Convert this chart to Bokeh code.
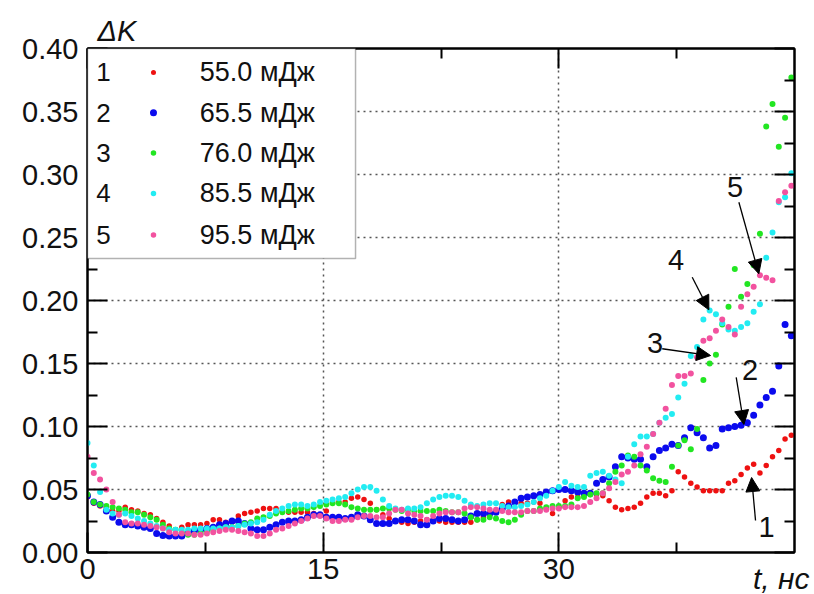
from bokeh.plotting import figure
from bokeh.models import (Range1d, FixedTicker, LinearAxis, Label, BoxAnnotation,
                          Arrow, NormalHead, ColumnDataSource, PrintfTickFormatter,
                          CustomJSTickFormatter, Title)
from bokeh.embed import file_html
from bokeh.resources import INLINE

# ---------------- data ----------------
t_ns = [round(0.4 * i, 1) for i in range(113)]

dk_55 = [
    0.044, 0.039, 0.037, 0.036, 0.033, 0.033, 0.036, 0.034, 0.033, 0.031,
    0.030, 0.027, 0.024, 0.021, 0.018, 0.020, 0.022, 0.022, 0.022, 0.023,
    0.026, 0.026, 0.024, 0.024, 0.029, 0.031, 0.032, 0.033, 0.035, 0.035,
    0.035, 0.033, 0.032, 0.032, 0.032, 0.032, 0.031, 0.030, 0.033, 0.040,
    0.040, 0.040, 0.043, 0.044, 0.042, 0.039, 0.034, 0.030, 0.027, 0.025,
    0.024, 0.023, 0.024, 0.025, 0.026, 0.026, 0.025, 0.024, 0.024, 0.024,
    0.024, 0.024, 0.026, 0.028, 0.030, 0.033, 0.038, 0.040, 0.040, 0.039,
    0.039, 0.040, 0.039, 0.035, 0.031, 0.036, 0.041, 0.044, 0.044, 0.045,
    0.046, 0.046, 0.045, 0.041, 0.036, 0.034, 0.035, 0.036, 0.039, 0.044,
    0.047, 0.047, 0.045, 0.049, 0.064, 0.060, 0.055, 0.052, 0.049, 0.049,
    0.049, 0.049, 0.055, 0.057, 0.062, 0.067, 0.070, 0.063, 0.069, 0.076,
    0.081, 0.090, 0.093]

dk_65 = [
    0.045, 0.040, 0.038, 0.033, 0.028, 0.024, 0.022, 0.022, 0.021, 0.020,
    0.019, 0.015, 0.0135, 0.013, 0.013, 0.013, 0.015, 0.017, 0.018, 0.019,
    0.020, 0.022, 0.023, 0.025, 0.025, 0.023, 0.019, 0.018, 0.018, 0.020,
    0.022, 0.024, 0.025, 0.025, 0.026, 0.028, 0.030, 0.030, 0.028, 0.028,
    0.028, 0.027, 0.028, 0.030, 0.029, 0.026, 0.023, 0.023, 0.023, 0.025,
    0.026, 0.026, 0.025, 0.022, 0.022, 0.025, 0.027, 0.027, 0.026, 0.025,
    0.026, 0.029, 0.031, 0.031, 0.031, 0.032, 0.035, 0.037, 0.040, 0.043,
    0.044, 0.045, 0.046, 0.048, 0.049, 0.050, 0.050, 0.049, 0.048, 0.047,
    0.047, 0.055, 0.058, 0.060, 0.068, 0.076, 0.075, 0.074, 0.074, 0.068,
    0.076, 0.081, 0.083, 0.086, 0.085, 0.091, 0.099, 0.095, 0.091, 0.083,
    0.085, 0.098, 0.099, 0.100, 0.101, 0.103, 0.109, 0.117, 0.123, 0.128,
    0.148, 0.181, 0.172]

dk_76 = [
    0.046, 0.040, 0.038, 0.037, 0.036, 0.035, 0.034, 0.032, 0.032, 0.030,
    0.028, 0.026, 0.022, 0.019, 0.018, 0.016, 0.014, 0.014, 0.015, 0.017,
    0.018, 0.019, 0.020, 0.020, 0.021, 0.023, 0.024, 0.027, 0.028, 0.029,
    0.031, 0.032, 0.033, 0.034, 0.035, 0.035, 0.036, 0.037, 0.038, 0.039,
    0.039, 0.038, 0.036, 0.035, 0.034, 0.034, 0.034, 0.035, 0.035, 0.034,
    0.033, 0.034, 0.033, 0.033, 0.033, 0.033, 0.034, 0.033, 0.032, 0.032,
    0.031, 0.028, 0.026, 0.026, 0.028, 0.027, 0.025, 0.024, 0.026, 0.030,
    0.033, 0.033, 0.035, 0.036, 0.037, 0.037, 0.037, 0.038, 0.043, 0.044,
    0.046, 0.047, 0.047, 0.055, 0.064, 0.069, 0.077, 0.076, 0.069, 0.065,
    0.059, 0.057, 0.056, 0.068, 0.085, 0.089, 0.082, 0.098, 0.137, 0.150,
    0.157, 0.181, 0.195, 0.225, 0.203, 0.213, 0.228, 0.253, 0.338, 0.356,
    0.322, 0.345, 0.377]

dk_85 = [
    0.087, 0.069, 0.048, 0.034, 0.031, 0.030, 0.031, 0.029, 0.027, 0.025,
    0.023, 0.021, 0.019, 0.018, 0.018, 0.018, 0.018, 0.019, 0.019, 0.019,
    0.019, 0.019, 0.020, 0.020, 0.021, 0.022, 0.023, 0.024, 0.026, 0.030,
    0.033, 0.035, 0.037, 0.038, 0.038, 0.037, 0.038, 0.040, 0.041, 0.042,
    0.043, 0.044, 0.047, 0.050, 0.052, 0.052, 0.049, 0.042, 0.037, 0.035,
    0.034, 0.035, 0.035, 0.036, 0.039, 0.042, 0.044, 0.045, 0.045, 0.044,
    0.041, 0.038, 0.037, 0.038, 0.039, 0.039, 0.037, 0.036, 0.036, 0.037,
    0.038, 0.040, 0.043, 0.045, 0.049, 0.052, 0.056, 0.053, 0.052, 0.052,
    0.061, 0.063, 0.064, 0.061, 0.058, 0.055, 0.076, 0.086, 0.092, 0.092,
    0.094, 0.103, 0.107, 0.110, 0.123, 0.134, 0.156, 0.163, 0.185, 0.192,
    0.189, 0.182, 0.177, 0.176, 0.179, 0.182, 0.191, 0.197, 0.234, 0.254,
    0.278, 0.282, 0.301]

dk_95 = [
    0.076, 0.063, 0.058, 0.050, 0.040, 0.030, 0.024, 0.023, 0.023, 0.022,
    0.021, 0.020, 0.019, 0.016, 0.015, 0.015, 0.015, 0.014, 0.014, 0.015,
    0.016, 0.017, 0.018, 0.018, 0.017, 0.016, 0.015, 0.013, 0.013, 0.015,
    0.018, 0.019, 0.021, 0.023, 0.025, 0.027, 0.029, 0.029, 0.027, 0.025,
    0.025, 0.026, 0.026, 0.028, 0.029, 0.029, 0.028, 0.028, 0.031, 0.034,
    0.034, 0.031, 0.030, 0.029, 0.026, 0.029, 0.031, 0.032, 0.032, 0.032,
    0.035, 0.036, 0.036, 0.035, 0.034, 0.034, 0.033, 0.032, 0.032, 0.032,
    0.033, 0.033, 0.033, 0.034, 0.035, 0.035, 0.036, 0.036, 0.036, 0.037,
    0.040, 0.043, 0.047, 0.051, 0.056, 0.062, 0.064, 0.069, 0.078, 0.084,
    0.094, 0.103, 0.114, 0.133, 0.140, 0.140, 0.142, 0.155, 0.168, 0.170,
    0.176, 0.185, 0.179, 0.173, 0.195, 0.205, 0.211, 0.220, 0.218, 0.216,
    0.279, 0.286, 0.291]

series_numbers = ["1", "2", "3", "4", "5"]
energy_labels = ["55.0 мДж", "65.5 мДж", "76.0 мДж", "85.5  мДж", "95.5 мДж"]
series_values = [dk_55, dk_65, dk_76, dk_85, dk_95]

x_major = [0, 15, 30]
x_minor = [7.5, 22.5, 37.5]
y_major = [0.00, 0.05, 0.10, 0.15, 0.20, 0.25, 0.30, 0.35, 0.40]
y_minor = [0.025, 0.075, 0.125, 0.175, 0.225, 0.275, 0.325, 0.375]

# ---------------- style ----------------
FONT = "Liberation Sans"
colors = ["#ee1111", "#0b0bee", "#22e622", "#22ecf2", "#f2529f"]
dot_sizes = [5.5, 7.0, 6.0, 6.0, 6.0]
key_sizes = [5.0, 7.0, 5.5, 5.5, 5.5]

p = figure(width=814, height=594, output_backend="svg", toolbar_location=None,
           x_range=Range1d(0, 45), y_range=Range1d(0, 0.40),
           min_border_left=87, min_border_right=20, min_border_top=48,
           min_border_bottom=42)
p.background_fill_color = "white"
p.border_fill_color = "white"
p.outline_line_color = "black"
p.outline_line_width = 2

# y-axis title as plot title (top-left, italic)
p.title.text = "ΔK"
p.title.align = "left"
p.title.offset = 10
p.title.standoff = 0
p.title.vertical_align = "top"
p.title.text_font = FONT
p.title.text_font_size = "29px"
p.title.text_font_style = "italic"
p.title.text_color = "#111111"

xt = FixedTicker(ticks=x_major, minor_ticks=x_minor)
yt = FixedTicker(ticks=y_major, minor_ticks=y_minor)


def style_axis(ax, ticker):
    ax.ticker = ticker
    ax.axis_line_color = "black"
    ax.axis_line_width = 2
    ax.major_tick_in = 20
    ax.major_tick_out = 0
    ax.minor_tick_in = 10
    ax.minor_tick_out = 0
    ax.major_tick_line_color = "black"
    ax.minor_tick_line_color = "black"
    ax.major_tick_line_width = 2
    ax.minor_tick_line_width = 2
    ax.major_label_text_font = FONT
    ax.major_label_text_font_size = "29px"
    ax.major_label_text_color = "#111111"


style_axis(p.xaxis[0], xt)
style_axis(p.yaxis[0], yt)
p.xaxis[0].major_label_standoff = 6
p.yaxis[0].major_label_standoff = 9
p.yaxis[0].formatter = PrintfTickFormatter(format="%.2f")

top_ax = LinearAxis()
style_axis(top_ax, FixedTicker(ticks=x_major, minor_ticks=x_minor))
top_ax.formatter = CustomJSTickFormatter(code="return ''")
top_ax.major_label_standoff = 0
top_ax.major_label_text_font_size = "0px"
p.add_layout(top_ax, "above")

right_ax = LinearAxis()
style_axis(right_ax, FixedTicker(ticks=y_major, minor_ticks=y_minor))
right_ax.formatter = CustomJSTickFormatter(code="return ''")
right_ax.major_label_standoff = 0
right_ax.major_label_text_font_size = "0px"
p.add_layout(right_ax, "right")

for g, tk in ((p.xgrid[0], xt), (p.ygrid[0], yt)):
    g.ticker = tk
    g.grid_line_color = "#555555"
    g.grid_line_dash = "2 4"
    g.grid_line_width = 1.5

# x-axis title at the right end of the axis, level with tick labels
x_title = Title(text="t, нс", align="right", offset=-15, standoff=-40,
                vertical_align="top",
                text_font=FONT, text_font_size="30px", text_font_style="italic",
                text_color="#111111")
p.add_layout(x_title, "below")

# ---------------- data points ----------------
for vals, col, sz in zip(series_values, colors, dot_sizes):
    src = ColumnDataSource(dict(t=t_ns, v=vals))
    p.scatter("t", "v", source=src, size=sz, fill_color=col, line_color=None)

# ---------------- legend (manual) ----------------
box = BoxAnnotation(left=0, right=17.06, top=0.40, bottom=0.2333,
                    fill_color="white", fill_alpha=1.0,
                    line_color="black", line_width=1.5)
p.add_layout(box)

key_y = [0.381, 0.349, 0.317, 0.285, 0.252]
key_src = ColumnDataSource(dict(x=[4.2] * 5, y=key_y, c=colors, s=key_sizes))
p.scatter("x", "y", source=key_src, size="s", fill_color="c", line_color=None,
          level="overlay")

for num, lab, yy in zip(series_numbers, energy_labels, key_y):
    p.add_layout(Label(x=0.55, y=yy, text=num, text_font=FONT, text_font_size="26px",
                       text_baseline="middle", text_align="left", text_color="#111111"))
    p.add_layout(Label(x=7.15, y=yy, text=lab, text_font=FONT, text_font_size="27px",
                       text_baseline="middle", text_align="left", text_color="#111111"))

# ---------------- curve markers with arrows ----------------
marks = [
    ("1", 43.22, 0.0206, 42.52, 0.0254, 42.27, 0.0595),
    ("2", 42.17, 0.1452, 41.29, 0.1390, 41.78, 0.1016),
    ("3", 36.12, 0.1663, 36.58, 0.1617, 39.66, 0.1563),
    ("4", 37.46, 0.2325, 38.49, 0.2185, 39.55, 0.1926),
    ("5", 41.21, 0.2897, 41.46, 0.2780, 42.73, 0.2212),
]
for txt, lx, ly, xs, ys, xe, ye in marks:
    p.add_layout(Label(x=lx, y=ly, text=txt, text_font=FONT, text_font_size="29px",
                       text_baseline="middle", text_align="center", text_color="#111111"))
    p.add_layout(Arrow(end=NormalHead(size=14, fill_color="black", line_color="black",
                                      line_width=1),
                       x_start=xs, y_start=ys, x_end=xe, y_end=ye,
                       line_color="black", line_width=1.3))

open("out.html", "w").write(file_html(p, INLINE))
